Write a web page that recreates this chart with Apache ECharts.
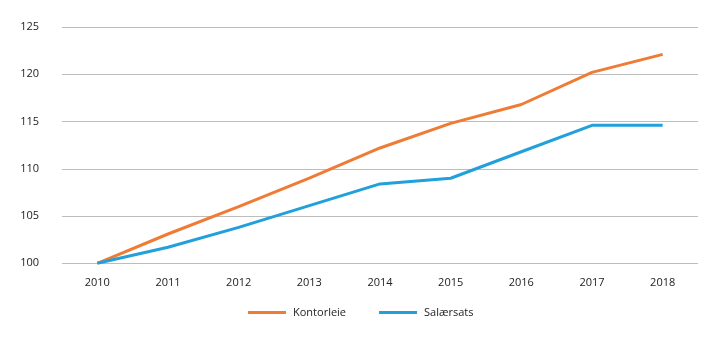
<!DOCTYPE html>
<html><head><meta charset="utf-8">
<script src="https://cdn.jsdelivr.net/npm/echarts@6/dist/echarts.min.js"></script>
<style>html,body{margin:0;padding:0;background:#fff}#c{width:719px;height:341px}</style>
</head><body><div id="c"></div>
<script>
const years = ['2010','2011','2012','2013','2014','2015','2016','2017','2018'];
const kontorleie = [100, 103.1, 106.0, 109.0, 112.2, 114.8, 116.8, 120.2, 122.1];
const salaersats = [100, 101.7, 103.8, 106.1, 108.4, 109.0, 111.8, 114.6, 114.6];
const seriesNames = ['Kontorleie', 'Salærsats'];
const colors = ['#ef7c34', '#21a0db'];

const chart = echarts.init(document.getElementById('c'), null, {renderer:'canvas'});
const font = '"Open Sans", sans-serif';
chart.setOption({
  animation: false,
  color: colors,
  grid: {left: 62, right: 21, top: 27, bottom: 77.7, containLabel: false},
  legend: {
    left: 243, top: 302,
    icon: 'rect', itemWidth: 38, itemGap: 33, itemHeight: 3,
    textStyle: {fontFamily: font, fontSize: 11, color: '#222', padding: [0,0,0,2]},
    data: seriesNames
  },
  xAxis: {
    type: 'category', data: years, boundaryGap: true,
    axisLine: {show: false}, axisTick: {show: false},
    axisLabel: {fontFamily: font, fontSize: 11, color: '#222', margin: 14}
  },
  yAxis: {
    type: 'value', min: 100, max: 125, interval: 5,
    axisLine: {show: false}, axisTick: {show: false},
    axisLabel: {fontFamily: font, fontSize: 11, color: '#222', margin: 23},
    splitLine: {lineStyle: {color: '#bdbdbd', width: 1}}
  },
  series: [
    {name: seriesNames[0], type: 'line', data: kontorleie, symbol: 'none', lineStyle: {width: 3}},
    {name: seriesNames[1], type: 'line', data: salaersats, symbol: 'none', lineStyle: {width: 3}}
  ]
});
</script></body></html>
